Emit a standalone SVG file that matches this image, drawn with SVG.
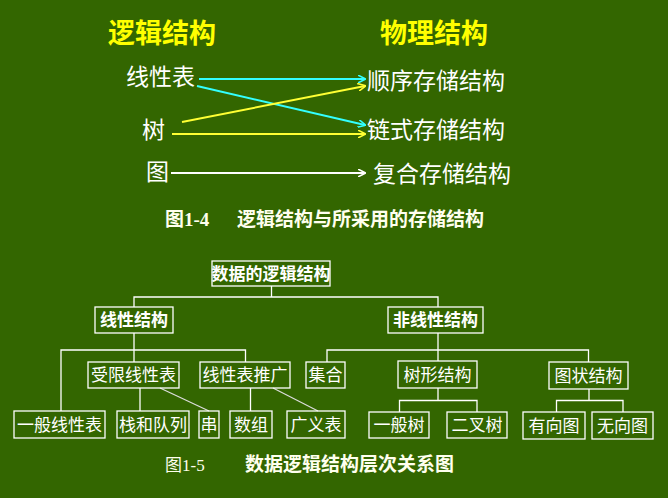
<svg xmlns="http://www.w3.org/2000/svg" width="668" height="498" viewBox="0 0 668 498">
<defs>
<style>
.t{font-family:"Liberation Sans","Noto Sans CJK SC",sans-serif;}
.title{font-size:27px;font-weight:bold;fill:#ffff00;}
.big{font-size:23px;fill:#ffffff;}
.cap{font-family:"Liberation Serif","Noto Sans CJK SC",serif;font-size:19px;font-weight:bold;fill:#ffffee;}
.cap2{font-family:"Liberation Serif","Noto Sans CJK SC",serif;font-size:17px;fill:#ffffee;}
.box{fill:none;stroke:#ffffff;stroke-width:1.3;}
.bt{font-size:17px;fill:#ffffff;text-anchor:middle;}
.bb{font-size:17px;fill:#ffffff;text-anchor:middle;font-weight:bold;}
.ln{fill:none;stroke:#ffffff;stroke-width:1.3;}
.dg{fill:none;stroke:#dddddd;stroke-width:1.2;}
.ar{fill:none;stroke-width:2;}
</style>
<marker id="mc" viewBox="0 0 10 10" refX="9" refY="5" markerWidth="8" markerHeight="8" markerUnits="userSpaceOnUse" orient="auto"><path d="M0,0 L10,5 L0,10" fill="none" stroke="#33ffff" stroke-width="2"/></marker>
<marker id="my" viewBox="0 0 10 10" refX="9" refY="5" markerWidth="8" markerHeight="8" markerUnits="userSpaceOnUse" orient="auto"><path d="M0,0 L10,5 L0,10" fill="none" stroke="#ffff33" stroke-width="2"/></marker>
<marker id="mw" viewBox="0 0 10 10" refX="9" refY="5" markerWidth="8" markerHeight="8" markerUnits="userSpaceOnUse" orient="auto"><path d="M0,0 L10,5 L0,10" fill="none" stroke="#ffffff" stroke-width="2"/></marker>
</defs>
<rect width="668" height="498" fill="#336600"/>

<g id="top-titles">
<text class="t title" x="108" y="43">逻辑结构</text>
<text class="t title" x="380" y="43">物理结构</text>
</g>
<g id="n-linear"><text class="t big" x="126" y="85">线性表</text></g>
<g id="n-tree"><text class="t big" x="142" y="138">树</text></g>
<g id="n-graph"><text class="t big" x="146" y="180">图</text></g>
<g id="n-seq"><text class="t big" x="367" y="89">顺序存储结构</text></g>
<g id="n-link"><text class="t big" x="367" y="138">链式存储结构</text></g>
<g id="n-comp"><text class="t big" x="373" y="182">复合存储结构</text></g>

<g id="arrows">
<line class="ar" x1="199" y1="79" x2="365" y2="79" stroke="#33ffff" marker-end="url(#mc)"/>
<line class="ar" x1="197" y1="86" x2="365" y2="125" stroke="#33ffff" marker-end="url(#mc)"/>
<line class="ar" x1="182" y1="122" x2="365" y2="86" stroke="#ffff33" marker-end="url(#my)"/>
<line class="ar" x1="172" y1="134" x2="365" y2="134" stroke="#ffff33" marker-end="url(#my)"/>
<line class="ar" x1="171" y1="173" x2="365" y2="173" stroke="#ffffff" marker-end="url(#mw)"/>
</g>

<g id="caption1">
<text class="cap" x="165" y="226">图1-4</text>
<text class="cap" x="237" y="226">逻辑结构与所采用的存储结构</text>
</g>

<g id="connectors">
<polyline class="ln" points="271.5,286 271.5,297"/>
<polyline class="ln" points="134,307 134,297 438,297 438,307"/>
<polyline class="ln" points="134,333 134,362"/>
<polyline class="ln" points="61,411 61,350 245.5,350 245.5,362"/>
<polyline class="ln" points="438,333 438,361"/>
<polyline class="ln" points="327,362 327,350 588.5,350 588.5,362"/>
<polyline class="ln" points="140,388 140,411"/>
<line class="dg" x1="160" y1="388" x2="209" y2="411"/>
<polyline class="ln" points="250.5,388 250.5,411"/>
<line class="dg" x1="273" y1="388" x2="318" y2="411"/>
<polyline class="ln" points="438,388 438,400.5"/>
<polyline class="ln" points="399.5,412 399.5,400.5 477,400.5 477,412"/>
<polyline class="ln" points="589,389 589,400.5"/>
<polyline class="ln" points="556.5,412 556.5,400.5 623,400.5 623,412"/>
</g>

<g id="b-root"><rect class="box" x="212" y="261" width="118" height="25"/><text class="t bb" x="271" y="280">数据的逻辑结构</text></g>
<g id="b-lin"><rect class="box" x="95" y="307" width="78" height="26"/><text class="t bb" x="134" y="326">线性结构</text></g>
<g id="b-nonlin"><rect class="box" x="388" y="307" width="95" height="26"/><text class="t bb" x="435.5" y="326">非线性结构</text></g>
<g id="b-restr"><rect class="box" x="88" y="362" width="91" height="26"/><text class="t bt" x="133.5" y="381">受限线性表</text></g>
<g id="b-gen"><rect class="box" x="200" y="362" width="90" height="26"/><text class="t bt" x="245" y="381">线性表推广</text></g>
<g id="b-set"><rect class="box" x="306" y="362" width="39" height="26"/><text class="t bt" x="325.5" y="381">集合</text></g>
<g id="b-treeS"><rect class="box" x="398" y="361" width="79" height="27"/><text class="t bt" x="437.5" y="381">树形结构</text></g>
<g id="b-graphS"><rect class="box" x="549" y="362" width="79" height="27"/><text class="t bt" x="588.5" y="382">图状结构</text></g>
<g id="b-ll"><rect class="box" x="14" y="411" width="91" height="27"/><text class="t bt" x="59.5" y="431">一般线性表</text></g>
<g id="b-sq"><rect class="box" x="117" y="411" width="72" height="27"/><text class="t bt" x="153" y="431">栈和队列</text></g>
<g id="b-str"><rect class="box" x="199" y="411" width="20" height="27"/><text class="t bt" x="209" y="431">串</text></g>
<g id="b-arr"><rect class="box" x="230" y="411" width="42" height="27"/><text class="t bt" x="251" y="431">数组</text></g>
<g id="b-gl"><rect class="box" x="287" y="411" width="58" height="27"/><text class="t bt" x="316" y="431">广义表</text></g>
<g id="b-gt"><rect class="box" x="369" y="412" width="60" height="26"/><text class="t bt" x="399" y="431">一般树</text></g>
<g id="b-bt"><rect class="box" x="447" y="412" width="60" height="26"/><text class="t bt" x="477" y="431">二叉树</text></g>
<g id="b-dg"><rect class="box" x="523" y="412" width="62" height="27"/><text class="t bt" x="554" y="432">有向图</text></g>
<g id="b-ug"><rect class="box" x="592" y="412" width="61" height="27"/><text class="t bt" x="622.5" y="432">无向图</text></g>

<g id="caption2">
<text class="cap2" x="165" y="471">图1-5</text>
<text class="cap" x="245" y="471">数据逻辑结构层次关系图</text>
</g>
</svg>
